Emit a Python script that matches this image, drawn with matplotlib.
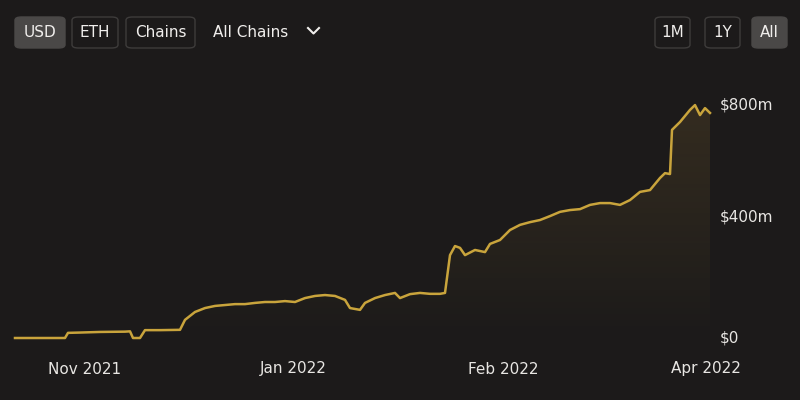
import numpy as np
import matplotlib
matplotlib.use("Agg")
import matplotlib.pyplot as plt
from matplotlib.patches import FancyBboxPatch

# TVL series, sample position (day index scaled to chart) and value in $m
days = [15, 65, 68, 80, 100, 125, 130, 133, 140, 145, 160, 180, 185, 195, 205, 215, 225, 235,
        245, 255, 265, 275, 285, 295, 305, 315, 325, 335, 345, 350, 360, 365, 375, 385,
        395, 400, 410, 420, 430, 440, 445, 450, 455, 460, 465, 475, 485, 490, 500, 510,
        520, 530, 540, 550, 560, 570, 580, 590, 600, 610, 620, 630, 640, 650, 660, 665,
        670, 672, 680, 690, 695, 700, 705, 710]
tvl = [0, 0, 17, 18, 20, 21, 22, 0, 0, 26, 26, 27, 60, 86, 99, 106, 109, 112,
       112, 116, 119, 119, 122, 119, 132, 139, 142, 139, 126, 99, 93, 116, 132, 142,
       149, 132, 145, 149, 146, 146, 149, 274, 304, 298, 274, 291, 284, 311, 324, 357,
       374, 383, 390, 403, 417, 423, 426, 440, 446, 446, 440, 456, 483, 489, 529, 545,
       542, 688, 714, 754, 770, 737, 760, 744]
tick_pos = [85, 293, 503, 706]
tick_labels = ["Nov 2021", "Jan 2022", "Feb 2022", "Apr 2022"]
y_ticks = [0, 400, 800]
y_labels = ["$0", "$400m", "$800m"]

bg = "#1c1a1a"
gold = "#c9a43c"
W, H = 800, 400

fig = plt.figure(figsize=(8, 4), dpi=100, facecolor=bg)
ax = fig.add_axes([15 / W, (H - 338) / H, 695 / W, 242 / H], facecolor=bg)

x = np.array(days, dtype=float)
y = np.array(tvl, dtype=float)
ax.plot(x, y, color=gold, lw=1.8, clip_on=False, zorder=3)

# gradient fill below the line
grad = np.linspace(0, 1, 256).reshape(-1, 1)
cmap = matplotlib.colors.LinearSegmentedColormap.from_list(
    "g", [(0.79, 0.64, 0.24, 0.0), (0.72, 0.55, 0.25, 0.16)])
im = ax.imshow(grad, cmap=cmap, aspect="auto", extent=[15, 710, 0, 800],
               origin="lower", zorder=1)
poly = ax.fill_between(x, y, 0, color="none")
im.set_clip_path(poly.get_paths()[0], transform=ax.transData)

ax.set_xlim(15, 710)
ax.set_ylim(0, 800)
for s in ax.spines.values():
    s.set_visible(False)
ax.set_xticks([])
ax.set_yticks([])

for p, lab in zip(tick_pos, tick_labels):
    fig.text(p / W, 1 - 369 / H, lab, color="#e8e6e3", fontsize=11,
             ha="center", va="center")
for v, lab in zip(y_ticks, y_labels):
    ypix = 338 - v * 242 / 800
    ypix = max(ypix, 105)
    fig.text(720 / W, 1 - ypix / H, lab, color="#e8e6e3", fontsize=11,
             ha="left", va="center")

# buttons
def button(x0, x1, label, selected=False):
    y0, y1 = 17, 48
    box = FancyBboxPatch((x0 / W, 1 - y1 / H), (x1 - x0) / W, (y1 - y0) / H,
                         boxstyle="round,pad=0,rounding_size=0.008",
                         transform=fig.transFigure,
                         facecolor="#4a4847" if selected else bg,
                         edgecolor="#4a4847" if selected else "#3e3c3b", lw=1)
    fig.patches.append(box)
    fig.text((x0 + x1) / 2 / W, 1 - 32.5 / H, label, color="#f0eeec",
             fontsize=11, ha="center", va="center")

button(15, 65, "USD", True)
button(72, 118, "ETH")
button(126, 195, "Chains")
button(655, 690, "1M")
button(705, 740, "1Y")
button(752, 787, "All", True)
fig.text(213 / W, 1 - 32.5 / H, "All Chains", color="#f0eeec", fontsize=11,
         ha="left", va="center")
fig.add_artist(plt.Line2D([308 / W, 313.5 / W, 319 / W],
                          [1 - 28 / H, 1 - 33.5 / H, 1 - 28 / H],
                          transform=fig.transFigure, color="#f0eeec", lw=1.5))

fig.savefig("out.png", dpi=100, facecolor=bg)
